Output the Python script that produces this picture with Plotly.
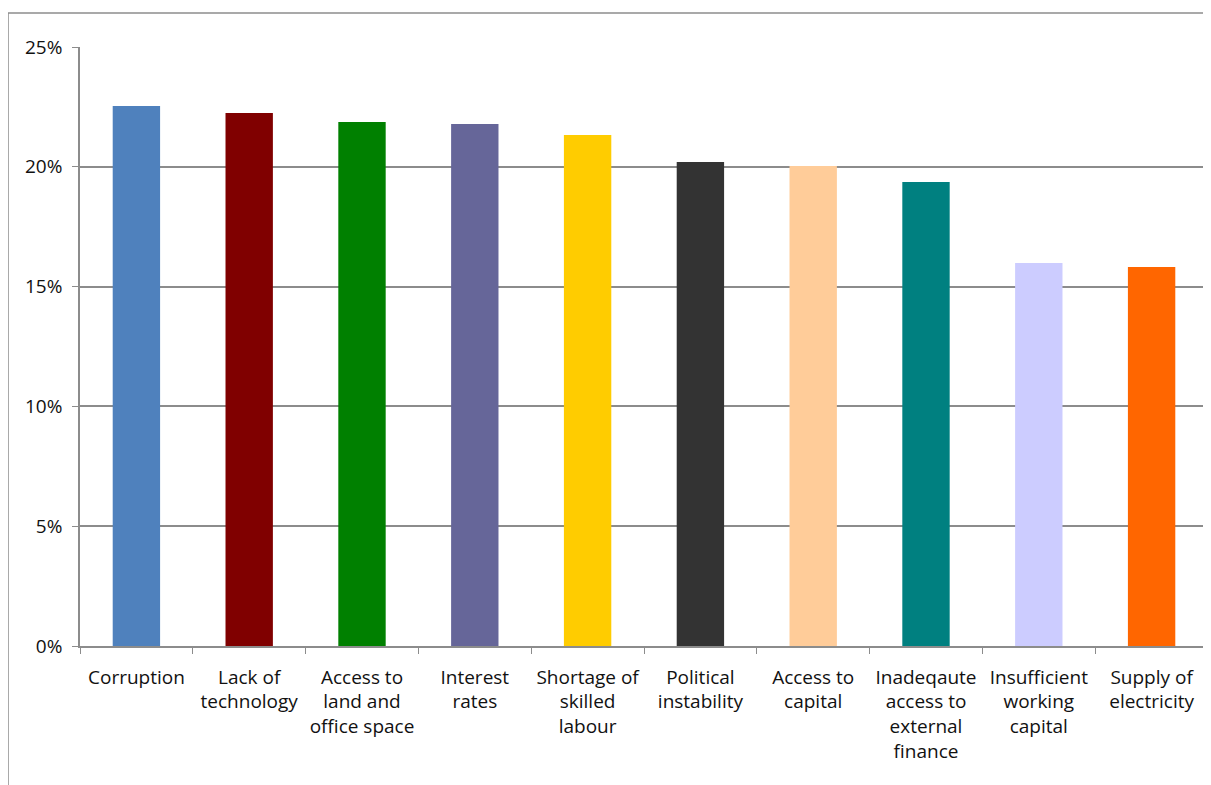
import plotly.graph_objects as go

# constraint categories and share of firms citing them
categories = [
    "Corruption",
    "Lack of<br>technology",
    "Access to<br>land and<br>office space",
    "Interest<br>rates",
    "Shortage of<br>skilled<br>labour",
    "Political<br>instability",
    "Access to<br>capital",
    "Inadeqaute<br>access to<br>external<br>finance",
    "Insufficient<br>working<br>capital",
    "Supply of<br>electricity",
]
shares = [0.2254, 0.2225, 0.2187, 0.2179, 0.2133, 0.2020, 0.2003, 0.1937, 0.1598, 0.1582]
bar_colors = [
    "#4F81BD", "#800000", "#008000", "#666699", "#FFCC00",
    "#333333", "#FFCC99", "#008080", "#CCCCFF", "#FF6600",
]
y_ticks = [0, 0.05, 0.10, 0.15, 0.20, 0.25]

# page body has an 8px margin, so the figure sits at (8, 8)
W, H = 1203, 777
L, R, T, B = 72, 3, 39, 139
pw, ph = W - L - R, H - T - B


def px_x(p):
    return (p - L) / pw


def px_y(p):
    return (H - B - p) / ph


fig = go.Figure(
    go.Bar(x=categories, y=shares, marker=dict(color=bar_colors, line_width=0), width=0.42)
)

grid = "#8c8c8c"
fig.update_layout(
    width=W,
    height=H,
    margin=dict(l=L, r=R, t=T, b=B),
    paper_bgcolor="white",
    plot_bgcolor="white",
    showlegend=False,
    font=dict(family="Open Sans, Lato, sans-serif", size=19, color="#111111"),
    xaxis=dict(
        showline=True,
        linecolor=grid,
        linewidth=1.5,
        ticks="outside",
        tickson="boundaries",
        ticklen=6,
        tickcolor=grid,
        tickangle=0,
        ticklabelstandoff=13,
        showgrid=False,
        automargin=False,
    ),
    yaxis=dict(
        range=[0, 0.25],
        tickvals=y_ticks,
        tickformat=".0%",
        showline=True,
        linecolor=grid,
        linewidth=1.5,
        ticks="outside",
        ticklen=6,
        tickcolor=grid,
        ticklabelstandoff=6,
        showgrid=True,
        gridcolor=grid,
        gridwidth=1.5,
        zeroline=False,
        automargin=False,
    ),
)

# outer chart frame (left and top edges visible)
fig.add_shape(type="line", xref="paper", yref="paper",
              x0=px_x(0), x1=px_x(W + 5), y0=px_y(5), y1=px_y(5),
              line=dict(color=grid, width=1.5))
fig.add_shape(type="line", xref="paper", yref="paper",
              x0=px_x(0), x1=px_x(0), y0=px_y(5), y1=px_y(H + 5),
              line=dict(color=grid, width=1.5))

fig.write_html("out.html")
